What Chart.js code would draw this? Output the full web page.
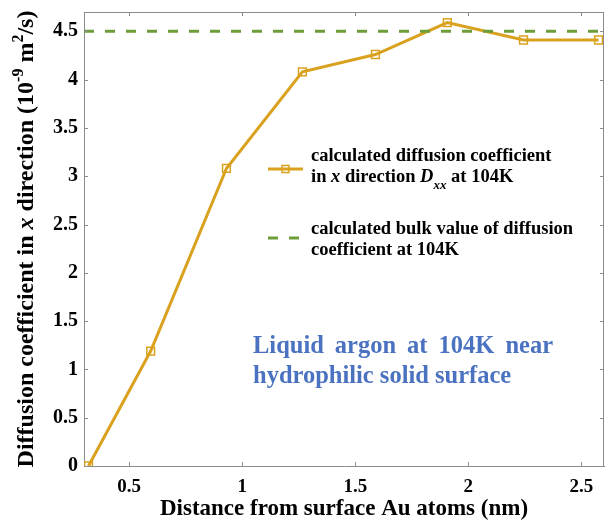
<!DOCTYPE html>
<html>
<head>
<meta charset="utf-8">
<script src="https://cdn.jsdelivr.net/npm/chart.js@4/dist/chart.umd.min.js"></script>
<style>
  html, body { margin: 0; padding: 0; background: #fff; }
  #wrap { width: 605px; height: 523px; position: relative; }
</style>
</head>
<body>
<div id="wrap"><canvas id="chart"></canvas></div>
<script>
// data
const distanceNm = [0.32, 0.595, 0.93, 1.266, 1.589, 1.907, 2.244, 2.576];
const dxxValues = [0, 1.19, 3.08, 4.08, 4.26, 4.59, 4.41, 4.41];
const bulkX = [0.3, 2.6];
const bulkValue = [4.5, 4.5];
const xRange = [0.3, 2.6];
const yRange = [0, 4.7];
const tickStep = 0.5;

const SERIF = "'Liberation Serif', 'Times New Roman', serif";
const ORANGE = "#D9A11E";
const GREEN = "#6E9E3A";
const AXIS = "#8c8c8c";
const BLUE = "#4A72C0";

// draws a row of text pieces with own fonts and offsets
function drawRuns(ctx, runs, x, y, align) {
  let total = 0;
  runs.forEach(r => { ctx.font = r.font; r.w = ctx.measureText(r.text).width; total += r.w; });
  let cx = align === "center" ? x - total / 2 : x;
  runs.forEach(r => {
    ctx.font = r.font;
    ctx.fillText(r.text, cx, y + (r.dy || 0));
    cx += r.w;
  });
}

const decor = {
  id: "decor",
  afterDraw(chart) {
    const ctx = chart.ctx;
    const a = chart.chartArea;
    const xs = chart.scales.x, ys = chart.scales.y;
    ctx.save();

    // box top / right
    ctx.strokeStyle = AXIS;
    ctx.lineWidth = 1;
    ctx.beginPath();
    ctx.moveTo(a.left, a.top + 0.5); ctx.lineTo(a.right, a.top + 0.5);
    ctx.moveTo(a.right - 0.5, a.top); ctx.lineTo(a.right - 0.5, a.bottom);
    ctx.stroke();

    // inward ticks on all sides
    const tl = 4;
    ctx.beginPath();
    xs.ticks.forEach(t => {
      const px = Math.round(xs.getPixelForValue(t.value)) + 0.5;
      ctx.moveTo(px, a.bottom); ctx.lineTo(px, a.bottom - tl);
      ctx.moveTo(px, a.top); ctx.lineTo(px, a.top + tl);
    });
    ys.ticks.forEach(t => {
      const py = Math.round(ys.getPixelForValue(t.value)) + 0.5;
      ctx.moveTo(a.left, py); ctx.lineTo(a.left + tl, py);
      ctx.moveTo(a.right, py); ctx.lineTo(a.right - tl, py);
    });
    ctx.stroke();

    ctx.fillStyle = "#000";
    ctx.textBaseline = "alphabetic";
    ctx.textAlign = "left";

    // legend
    const b = "bold 18.5px " + SERIF;
    const bi = "italic bold 18.5px " + SERIF;
    ctx.strokeStyle = ORANGE;
    ctx.lineWidth = 3;
    ctx.beginPath(); ctx.moveTo(268, 169); ctx.lineTo(303, 169); ctx.stroke();
    ctx.lineWidth = 1.5;
    ctx.strokeRect(282, 165.5, 7, 7);
    ctx.strokeStyle = GREEN;
    ctx.lineWidth = 3;
    ctx.setLineDash([10, 11]);
    ctx.beginPath(); ctx.moveTo(268, 238); ctx.lineTo(310, 238); ctx.stroke();
    ctx.setLineDash([]);

    drawRuns(ctx, [{ text: "calculated diffusion coefficient", font: b }], 311, 161);
    drawRuns(ctx, [
      { text: "in ", font: b },
      { text: "x", font: bi },
      { text: " direction ", font: b },
      { text: "D", font: bi },
      { text: "xx", font: "italic bold 13px " + SERIF, dy: 7 },
      { text: " at 104K", font: b }
    ], 311, 182);
    drawRuns(ctx, [{ text: "calculated bulk value of diffusion", font: b }], 311, 234);
    drawRuns(ctx, [{ text: "coefficient at 104K", font: b }], 311, 255);

    // blue note, first line spread to a fixed width
    ctx.fillStyle = BLUE;
    ctx.font = "bold 24.5px " + SERIF;
    const words = ["Liquid", "argon", "at", "104K", "near"];
    const lineW = 300;
    const ww = words.map(w => ctx.measureText(w).width);
    const gap = (lineW - ww.reduce((s, v) => s + v, 0)) / (words.length - 1);
    let wx = 253;
    words.forEach((w, i) => { ctx.fillText(w, wx, 353); wx += ww[i] + gap; });
    ctx.fillText("hydrophilic solid surface", 253, 383);

    // y axis title
    ctx.fillStyle = "#000";
    ctx.translate(33, (a.top + a.bottom) / 2);
    ctx.rotate(-Math.PI / 2);
    const tb = "bold 24px " + SERIF;
    const sup = "bold 16px " + SERIF;
    drawRuns(ctx, [
      { text: "Diffusion coefficient in ", font: tb },
      { text: "x", font: "italic bold 24px " + SERIF },
      { text: " direction (10", font: tb },
      { text: "-9", font: sup, dy: -10 },
      { text: " m", font: tb },
      { text: "2", font: sup, dy: -10 },
      { text: "/s)", font: tb }
    ], 0, 0, "center");

    ctx.restore();
  }
};

const fmt = v => Number(Number(v).toFixed(1)).toString();

new Chart(document.getElementById("chart"), {
  type: "scatter",
  data: {
    datasets: [
      {
        label: "bulk",
        data: bulkX.map((x, i) => ({ x, y: bulkValue[i] })),
        showLine: true,
        borderColor: GREEN,
        borderWidth: 3,
        borderDash: [10, 11],
        pointRadius: 0
      },
      {
        label: "Dxx",
        data: distanceNm.map((x, i) => ({ x, y: dxxValues[i] })),
        showLine: true,
        borderColor: ORANGE,
        borderWidth: 3,
        pointStyle: "rect",
        pointRadius: 5.5,
        pointBorderWidth: 1.5,
        pointBorderColor: ORANGE,
        pointBackgroundColor: "rgba(0,0,0,0)"
      }
    ]
  },
  options: {
    responsive: true,
    maintainAspectRatio: false,
    animation: false,
    layout: { autoPadding: false, padding: { top: 12, right: 1, left: 0, bottom: 0 } },
    plugins: { legend: { display: false }, tooltip: { enabled: false } },
    scales: {
      x: {
        type: "linear",
        min: xRange[0],
        max: xRange[1],
        afterFit: s => { s.height = 57; s.paddingRight = 0; s.paddingLeft = 0; },
        border: { display: true, color: AXIS, width: 1 },
        grid: { display: true, drawOnChartArea: false, drawTicks: false },
        ticks: { stepSize: tickStep, includeBounds: false, color: "#000", font: { family: SERIF, size: 19, weight: "bold" }, padding: 10, maxRotation: 0, callback: fmt },
        title: {
          display: true,
          text: "Distance from surface Au atoms (nm)",
          color: "#000",
          font: { family: SERIF, size: 23, weight: "bold" },
          padding: { top: 0, bottom: 0 }
        }
      },
      y: {
        min: yRange[0],
        max: yRange[1],
        afterFit: s => { s.width = 84; s.paddingTop = 0; s.paddingBottom = 0; },
        border: { display: true, color: AXIS, width: 1 },
        grid: { display: true, drawOnChartArea: false, drawTicks: false },
        ticks: { stepSize: tickStep, includeBounds: false, color: "#000", font: { family: SERIF, size: 20, weight: "bold" }, padding: 6, callback: fmt }
      }
    }
  },
  plugins: [decor]
});
</script>
</body>
</html>
